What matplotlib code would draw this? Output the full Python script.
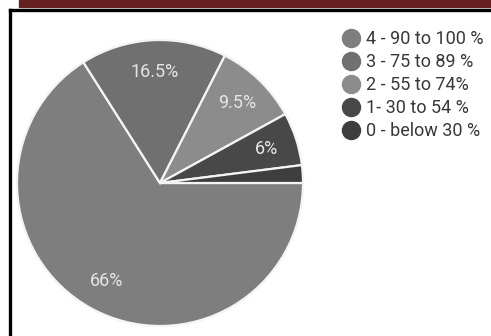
import numpy as np
import matplotlib.pyplot as plt
from matplotlib.lines import Line2D
from matplotlib.patches import Rectangle

# grade bands and share of students in each
labels = ["4 - 90 to 100 %", "3 - 75 to 89 %", "2 - 55 to 74%", "1- 30 to 54 %", "0 - below 30 %"]
shares = [66, 16.5, 9.5, 6, 2]
shareText = ["66%", "16.5%", "9.5%", "6%", ""]
colors = ["#7e7e7e", "#707070", "#8c8c8c", "#484848", "#3e3e3e"]

plt.rcParams['font.family'] = ['Roboto', 'DejaVu Sans']

W, H = 491, 336
fig = plt.figure(figsize=(W / 100, H / 100), dpi=100)

# header strip and frame
fig.patches.append(Rectangle((19 / W, 1 - 7 / H), 1, 7 / H, transform=fig.transFigure,
                             color="#651f21", zorder=0))
fig.add_artist(Line2D([9.5 / W, 9.5 / W], [0, 1 - 9.5 / H], transform=fig.transFigure,
                      color="black", linewidth=2.4))
fig.add_artist(Line2D([9.5 / W, 1], [1 - 9.5 / H, 1 - 9.5 / H], transform=fig.transFigure,
                      color="black", linewidth=2.4))

cx, cy, r = 160, 183, 143
ax = fig.add_axes([(cx - r) / W, (H - cy - r) / H, 2 * r / W, 2 * r / H])
wedges, _ = ax.pie(shares, colors=colors, startangle=0, counterclock=False,
                   wedgeprops=dict(edgecolor="#f4f4f4", linewidth=1.6))

# percentage labels inside the slices
angle = 0.0
for share, txt in zip(shares, shareText):
    mid = np.deg2rad(angle - share * 3.6 / 2)
    angle -= share * 3.6
    if txt:
        ax.text(0.78 * np.cos(mid), 0.78 * np.sin(mid), txt, ha="center", va="center",
                fontsize=13, color="#e6e6e6")
ax.set_xlim(-1, 1)
ax.set_ylim(-1, 1)
ax.axis("off")

handles = [Line2D([], [], marker="o", linestyle="none", markersize=13,
                  markerfacecolor=c, markeredgecolor=c) for c in colors]
fig.legend(handles, labels, loc="upper left", bbox_to_anchor=(333 / W, 1 - 21 / H),
           frameon=False, borderpad=0, handlelength=1.0, handletextpad=0.3,
           labelspacing=0.28, fontsize=13, labelcolor="#383838")

fig.savefig("out.png", dpi=100)
